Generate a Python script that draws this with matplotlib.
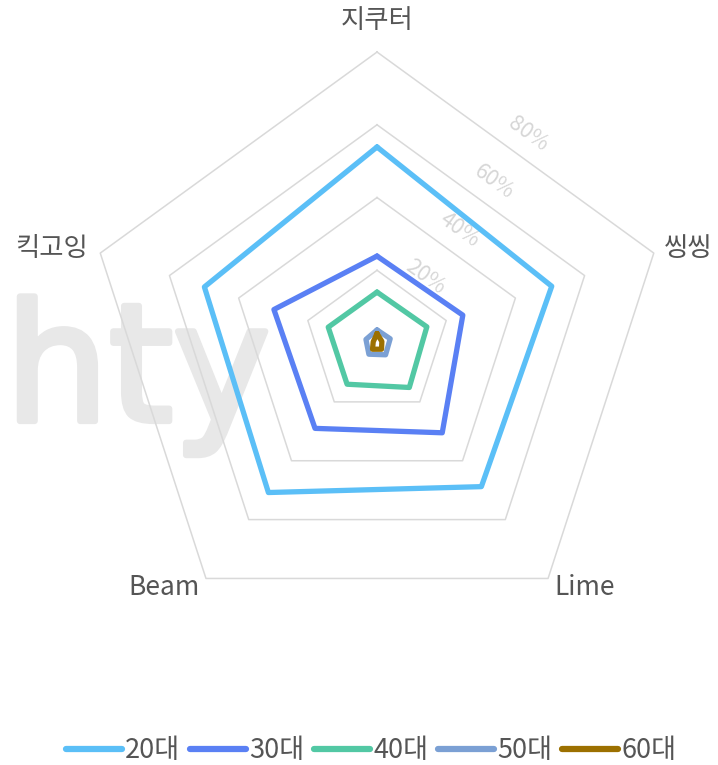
import numpy as np
import matplotlib
matplotlib.use("Agg")
import matplotlib.pyplot as plt
import matplotlib.patheffects as pe

plt.rcParams['font.family'] = ['Noto Sans CJK KR', 'DejaVu Sans']

categories = ['지쿠터', '씽씽', 'Lime', 'Beam', '킥고잉']
series_names = ['20대', '30대', '40대', '50대', '60대']
values_20 = [53.9, 50.5, 48.8, 50.8, 49.9]
values_30 = [23.9, 24.8, 30.5, 29.0, 29.8]
values_40 = [14.0, 14.4, 15.1, 14.0, 14.1]
values_50 = [3.6, 3.8, 4.0, 3.8, 3.2]
values_60 = [2.6, 1.4, 2.1, 2.1, 1.1]
tick_values = [20, 40, 60, 80]
tick_labels = ['20%', '40%', '60%', '80%']
colors = ['#5bbff7', '#5a80f4', '#52c8a4', '#7ba0d4', '#9c7000']

all_series = [values_20, values_30, values_40, values_50, values_60]

fig = plt.figure(figsize=(7.18, 7.65), dpi=100)
ax = fig.add_axes([0.1198, 0.1712, 0.8106, 0.7608], projection='polar')
ax.set_theta_offset(np.pi / 2)
ax.set_theta_direction(-1)
ax.set_ylim(0, 80)
ax.grid(False)
ax.spines['polar'].set_visible(False)
ax.set_xticks([])
ax.set_yticks([])
ax.patch.set_visible(False)

n = len(categories)
angles = np.linspace(0, 2 * np.pi, n, endpoint=False)
angles_c = np.concatenate([angles, angles[:1]])

# watermark
ax.text(5 / 718, 1 - 421 / 765, 'hty', transform=fig.transFigure,
        fontsize=118, color='#e8e8e8',
        family='DejaVu Sans', ha='left', va='baseline', zorder=0, clip_on=False,
        path_effects=[pe.withStroke(linewidth=4.5, foreground='#e8e8e8',
                                    capstyle='round', joinstyle='round')])

# grid rings
for v in tick_values:
    ax.plot(angles_c, [v] * (n + 1), color='#d9d9d9', lw=1.1, zorder=1,
            clip_on=False)

# tick labels
tick_theta = np.pi / n
for v, lab in zip(tick_values, tick_labels):
    r = v * np.cos(np.pi / n) + 6.2
    ax.text(tick_theta, r, lab, rotation=-36, rotation_mode='anchor',
            ha='center', va='center', fontsize=15.5, color='#d6d6d6',
            fontweight='light', zorder=2)

# category labels (offsets in pixels from each outer vertex)
label_offsets = [(0, 32), (10, 5), (6, -9), (-6, -9), (-12, 5)]
label_ha = ['center', 'left', 'left', 'right', 'right']
for a, c, off, ha in zip(angles, categories, label_offsets, label_ha):
    ax.annotate(c, xy=(a, tick_values[-1]), xytext=off,
                textcoords='offset pixels', ha=ha, va='center',
                fontsize=19, color='#555555', annotation_clip=False)

# series
for name, vals, col in zip(series_names, all_series, colors):
    v = list(vals) + [vals[0]]
    ax.plot(angles_c, v, color=col, lw=3.8, label=name, zorder=3,
            solid_joinstyle='round', solid_capstyle='round', clip_on=False)

leg = fig.legend(loc='center', bbox_to_anchor=(0.517, 14 / 765), ncol=5,
                 frameon=False, fontsize=19.5, handlelength=2.07,
                 handletextpad=0.12, columnspacing=0.36,
                 borderpad=0, labelcolor='#555555')
for h in leg.get_lines():
    h.set_linewidth(4.5)
    h.set_solid_capstyle('round')

fig.savefig('out.png', dpi=100)
